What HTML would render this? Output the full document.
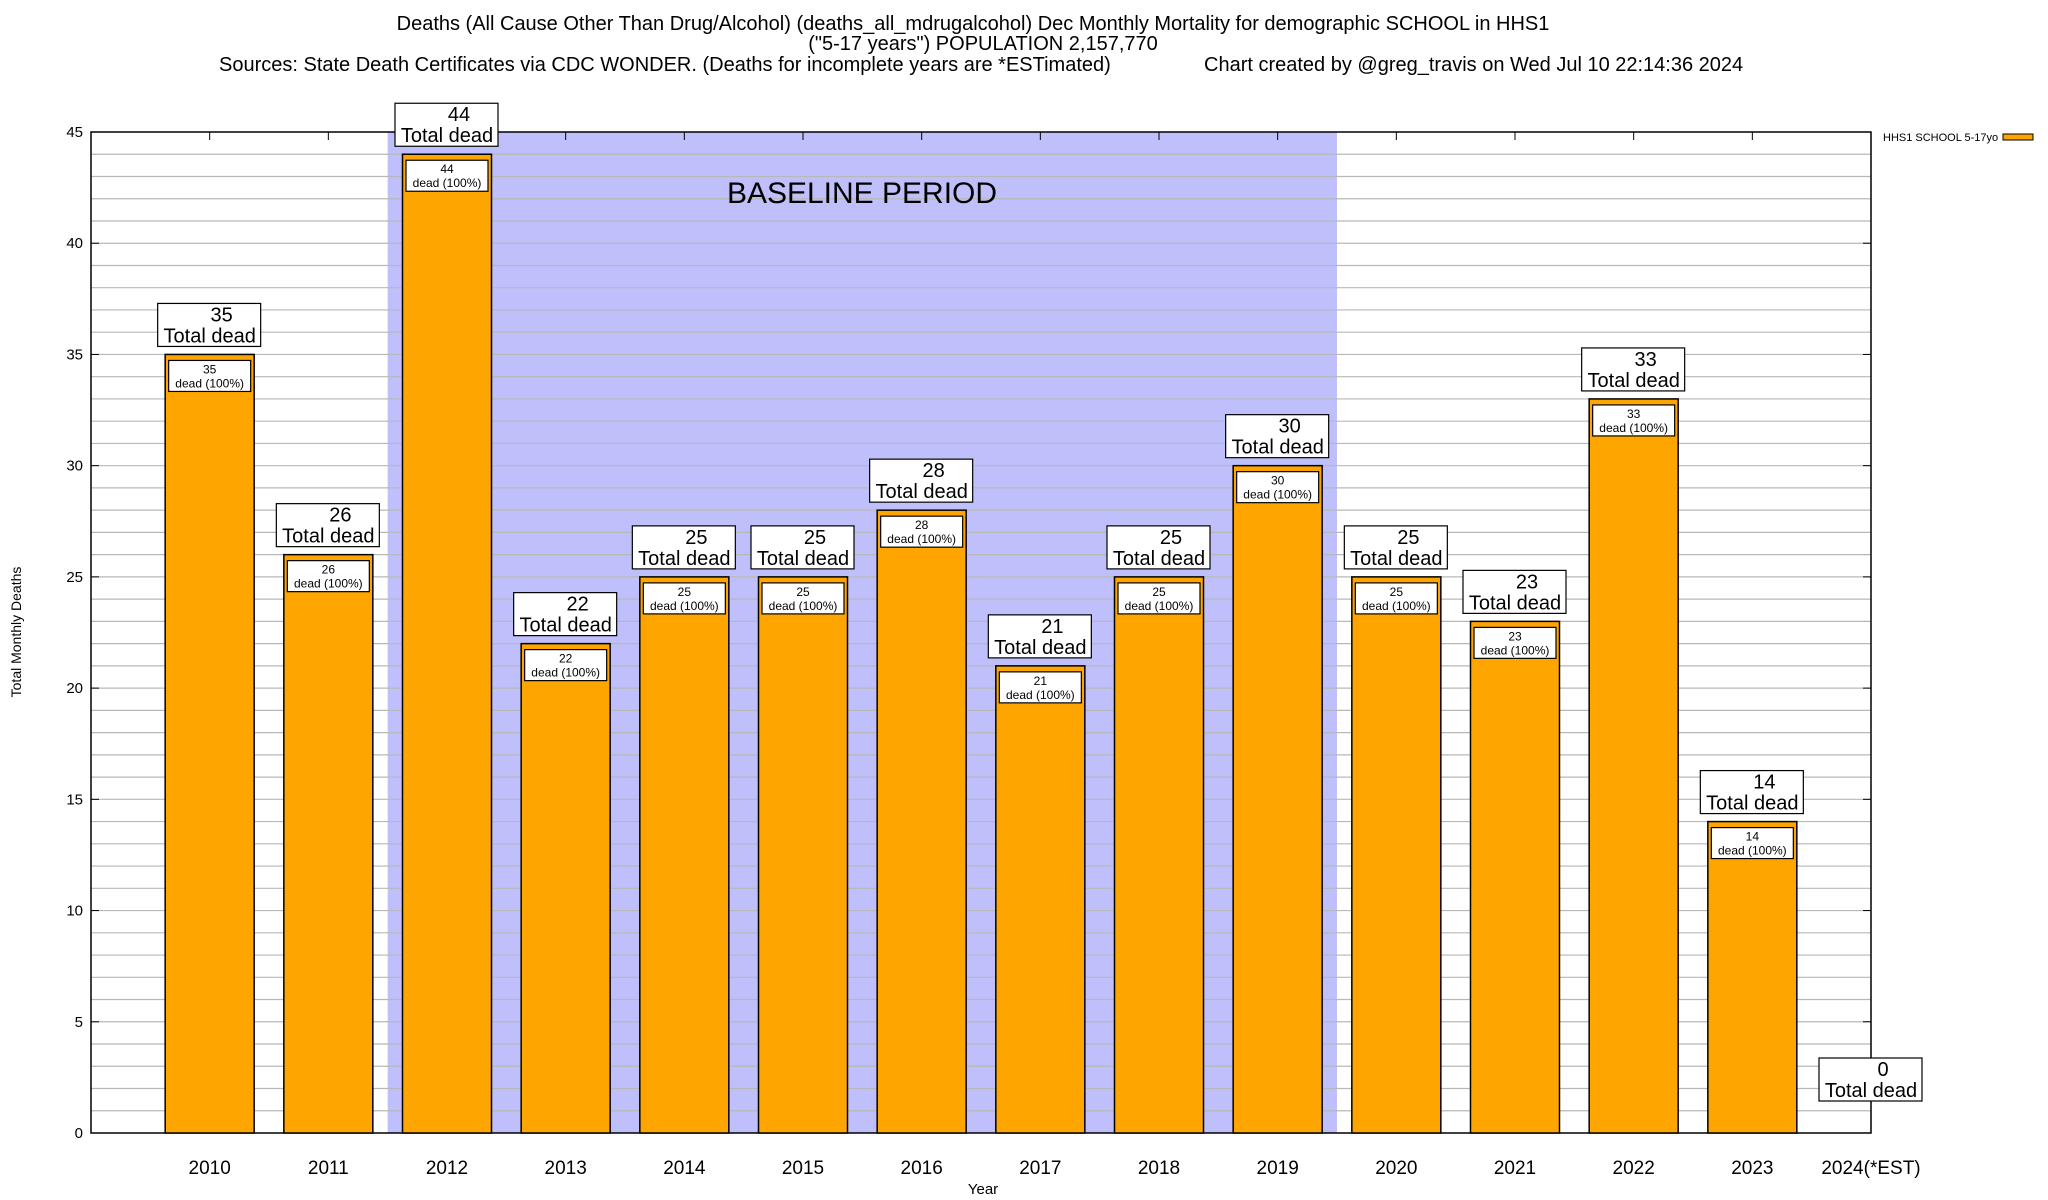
<!DOCTYPE html>
<html><head><meta charset="utf-8"><style>
html,body{margin:0;padding:0;background:#fff;}
svg{display:block;font-family:"Liberation Sans",sans-serif;}
</style></head><body>
<svg id="chart" width="2048" height="1200" viewBox="0 0 2048 1200" xmlns="http://www.w3.org/2000/svg">
<g font-size="20" fill="#000">
<text x="973" y="30" text-anchor="middle">Deaths (All Cause Other Than Drug/Alcohol) (deaths_all_mdrugalcohol) Dec Monthly Mortality for demographic SCHOOL in HHS1</text>
<text x="983" y="50" text-anchor="middle">("5-17 years") POPULATION 2,157,770</text>
<text x="219" y="71">Sources: State Death Certificates via CDC WONDER. (Deaths for incomplete years are *ESTimated)</text>
<text x="1204" y="71">Chart created by @greg_travis on Wed Jul 10 22:14:36 2024</text>
</g>
<g id="plot"></g>
<text x="21" y="632" font-size="14" text-anchor="middle" transform="rotate(-90 21 632)">Total Monthly Deaths</text>
<text x="983" y="1194" font-size="15" text-anchor="middle">Year</text>
<g>
<text x="1883" y="141" font-size="11">HHS1 SCHOOL 5-17yo</text>
<rect x="2003" y="134" width="30" height="6" fill="#FFA500" stroke="#000" stroke-width="1"/>
</g>
</svg>
<script>
const categories = ["2010","2011","2012","2013","2014","2015","2016","2017","2018","2019","2020","2021","2022","2023","2024(*EST)"];
const deaths = [35,26,44,22,25,25,28,21,25,30,25,23,33,14,0];
const yTicks = [0,5,10,15,20,25,30,35,40,45];
const baselineStart = 1.5, baselineEnd = 9.5;

const L=91,R=1871,T=132,B=1133,YMAX=45;
const NS="http://www.w3.org/2000/svg";
const g=document.getElementById('plot');
const step=(R-L)/(categories.length);
function xs(i){return L+(i+1)*step;}
function ys(v){return B-(v/YMAX)*(B-T);}
function mk(tag,attrs,parent){const e=document.createElementNS(NS,tag);for(const k in attrs)e.setAttribute(k,attrs[k]);(parent||g).appendChild(e);return e;}

const band=mk('rect',{x:xs(baselineStart),y:T,width:xs(baselineEnd)-xs(baselineStart),height:B-T,fill:'#bfbffb'});


for(let v=1;v<YMAX;v++){
  const l=mk('line',{x1:L,x2:R,y1:ys(v),y2:ys(v),stroke:'#b8b8b8','stroke-width':1.2});
  
  
}
const bt=mk('text',{x:862,y:203,'font-size':30,'text-anchor':'middle'});
bt.textContent='BASELINE PERIOD';


const fr=mk('rect',{x:L,y:T,width:R-L,height:B-T,fill:'none',stroke:'#000','stroke-width':1.5});


yTicks.forEach(v=>{
  const t=mk('line',{x1:L,x2:L+8,y1:ys(v),y2:ys(v),stroke:'#000'});
  
  
  const t2=mk('line',{x1:R-8,x2:R,y1:ys(v),y2:ys(v),stroke:'#000'});
  
  
  const tx=mk('text',{x:L-8,y:ys(v)+5,'font-size':15,'text-anchor':'end'});
  tx.textContent=v;
  
  
});
const bw=step*0.75;
categories.forEach((c,i)=>{
  const cx=xs(i),v=deaths[i];
  const lab=mk('text',{x:cx,y:1174,'font-size':19,'text-anchor':'middle'});
  lab.textContent=c;
  
  
  const tk=mk('line',{x1:cx,x2:cx,y1:T,y2:T+8,stroke:'#000'});
  
  
  if(v>0){
    const r=mk('rect',{x:cx-bw/2,y:ys(v),width:bw,height:B-ys(v),fill:'#FFA500',stroke:'#000','stroke-width':1.5});
    
    
    const ib=mk('rect',{x:cx-41,y:ys(v)+6,width:82,height:31,fill:'#fff',stroke:'#000','stroke-width':1.2});
    
    
    const it=mk('text',{x:cx,y:ys(v)+19,'font-size':12,'text-anchor':'middle'});
    it.textContent=v;
    
    
    const it2=mk('text',{x:cx,y:ys(v)+33,'font-size':12,'text-anchor':'middle'});
    it2.textContent='dead (100%)';
    
    
  }
  const by=ys(v)-8-(v===0?24:0);
  const ob=mk('rect',{x:cx-52,y:by-43,width:103,height:43,fill:'#fff',stroke:'#000','stroke-width':1.2});
  
  
  const o1=mk('text',{x:cx+12,y:by-25,'font-size':20,'text-anchor':'middle'});
  o1.textContent=v;
  
  
  const o2=mk('text',{x:cx,y:by-4,'font-size':20,'text-anchor':'middle'});
  o2.textContent='Total dead';
  
  
});
</script>
</body></html>
